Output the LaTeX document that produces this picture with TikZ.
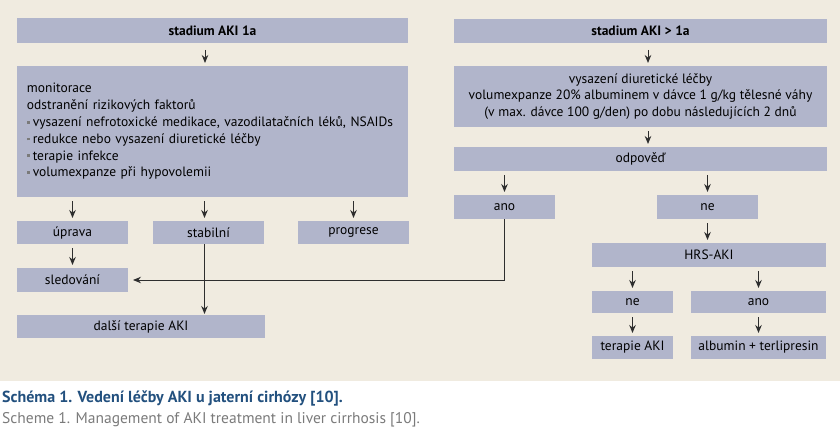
\documentclass[tikz,border=0pt]{standalone}
\usepackage{fontspec}
\setmainfont{PT Sans}
\usetikzlibrary{arrows.meta}
\definecolor{pozadi}{HTML}{F0EBE0}
\definecolor{blok}{HTML}{B1B5CB}
\definecolor{titulek}{HTML}{22507E}
\definecolor{sedy}{HTML}{7A7A7A}
\definecolor{cara}{HTML}{2E2E2E}
\newcommand\bodka{\textcolor{sedy}{\rule[0.22em]{2.8pt}{2.8pt}}\hspace{3pt}}

\begin{document}
\begin{tikzpicture}[x=1pt,y=-1pt,
	box/.style={fill=blok, inner sep=0pt, outer sep=0pt, font=\fontsize{13.5}{16.8}\selectfont},
	sipka/.style={cara, line width=1pt, -{Stealth[length=8pt,width=6.5pt]}, shorten <=4pt, shorten >=3pt},
	spoj/.style={cara, line width=1pt, -{Stealth[length=8pt,width=6.5pt]}}]
	\useasboundingbox (0,0) rectangle (840,436);
	\fill[pozadi] (0,0) rectangle (840,381);
	
	\node[box, minimum width=391pt, minimum height=25pt] (s1a) at (212.5,30.5) {\bfseries stadium AKI 1a};
	\node[box, minimum width=391pt, minimum height=131pt, text width=371pt, align=left] (op1a) at (212.5,131.5) {monitorace\\odstranění rizikových faktorů\\\bodka vysazení nefrotoxické medikace, vazodilatačních léků, NSAIDs\\\bodka redukce nebo vysazení diuretické léčby\\\bodka terapie infekce\\\bodka volumexpanze při hypovolemii};
	\node[box, minimum width=111pt, minimum height=23pt] (uprava) at (72.5,232.5) {úprava};
	\node[box, minimum width=111pt, minimum height=23pt] (stabil) at (208.5,232.5) {stabilní};
	\node[box, minimum width=111pt, minimum height=23pt] (progr) at (353.5,232.5) {progrese};
	\node[box, minimum width=111pt, minimum height=24pt] (sled) at (72.5,280) {sledování};
	\node[box, minimum width=248pt, minimum height=23pt] (dalsi) at (141,326.5) {další terapie AKI};
	
	\node[box, minimum width=373pt, minimum height=24pt] (s1b) at (640.5,31) {\bfseries stadium AKI > 1a};
	\node[box, minimum width=373pt, minimum height=61pt, align=center] (op1b) at (640.5,96.5) {vysazení diuretické léčby\\volumexpanze 20\% albuminem v dávce 1 g/kg tělesné váhy\\(v max. dávce 100 g/den) po dobu následujících 2 dnů};
	\node[box, minimum width=373pt, minimum height=24pt] (odp) at (640.5,159) {odpověď};
	\node[box, minimum width=101pt, minimum height=24pt] (ano1) at (504.5,207) {ano};
	\node[box, minimum width=101pt, minimum height=24pt] (ne1) at (707.5,207) {ne};
	\node[box, minimum width=234pt, minimum height=24pt] (hrs) at (709,255) {HRS-AKI};
	\node[box, minimum width=81pt, minimum height=22pt] (ne2) at (632.5,302) {ne};
	\node[box, minimum width=135pt, minimum height=22pt] (ano2) at (758.5,302) {ano};
	\node[box, minimum width=81pt, minimum height=23pt] (tAKI) at (632.5,347.5) {terapie AKI};
	\node[box, minimum width=135pt, minimum height=23pt] (alb) at (758.5,347.5) {albumin + terlipresin};
	
	\draw[sipka, shorten <=7pt] ([xshift=-7.5pt]s1a.south) -- ([xshift=-7.5pt]op1a.north);
	\draw[sipka] (op1a.south -| uprava.north) -- (uprava.north);
	\draw[sipka] ([xshift=-4pt]op1a.south -| stabil.north) -- ([xshift=-4pt]stabil.north);
	\draw[sipka] (op1a.south -| progr.north) -- (progr.north);
	\draw[sipka] (uprava.south) -- (sled.north);
	\draw[spoj, shorten >=1pt] ([xshift=-4pt]stabil.south) -- ([xshift=-4pt]stabil.south |- dalsi.north);
	\draw[spoj, shorten >=5pt] (ano1.south) |- (sled.east);
	
	\draw[sipka, shorten <=7pt] ([xshift=7.5pt]s1b.south) -- ([xshift=7.5pt]op1b.north);
	\draw[sipka] ([xshift=7.5pt]op1b.south) -- ([xshift=7.5pt]odp.north);
	\draw[sipka] (odp.south -| ano1.north) -- (ano1.north);
	\draw[sipka] (odp.south -| ne1.north) -- (ne1.north);
	\draw[sipka] (ne1.south) -- (ne1.south |- hrs.north);
	\draw[sipka] (hrs.south -| ne2.north) -- (ne2.north);
	\draw[sipka] (hrs.south -| ano2.north) -- (ano2.north);
	\draw[sipka] (ne2.south) -- (tAKI.north);
	\draw[sipka] (ano2.south) -- (alb.north);
	
	\node[anchor=base west, inner sep=0pt, text=titulek, font=\fontsize{16}{18}\selectfont\bfseries] (nadpis) at (2,402) {Schéma 1. Vedení léčby AKI u jaterní cirhózy [10].};
	\node[anchor=base west, inner sep=0pt, text=sedy, font=\fontsize{15.5}{18}\selectfont] (podnadpis) at (2,423) {Scheme 1. Management of AKI treatment in liver cirrhosis [10].};
\end{tikzpicture}
\end{document}
